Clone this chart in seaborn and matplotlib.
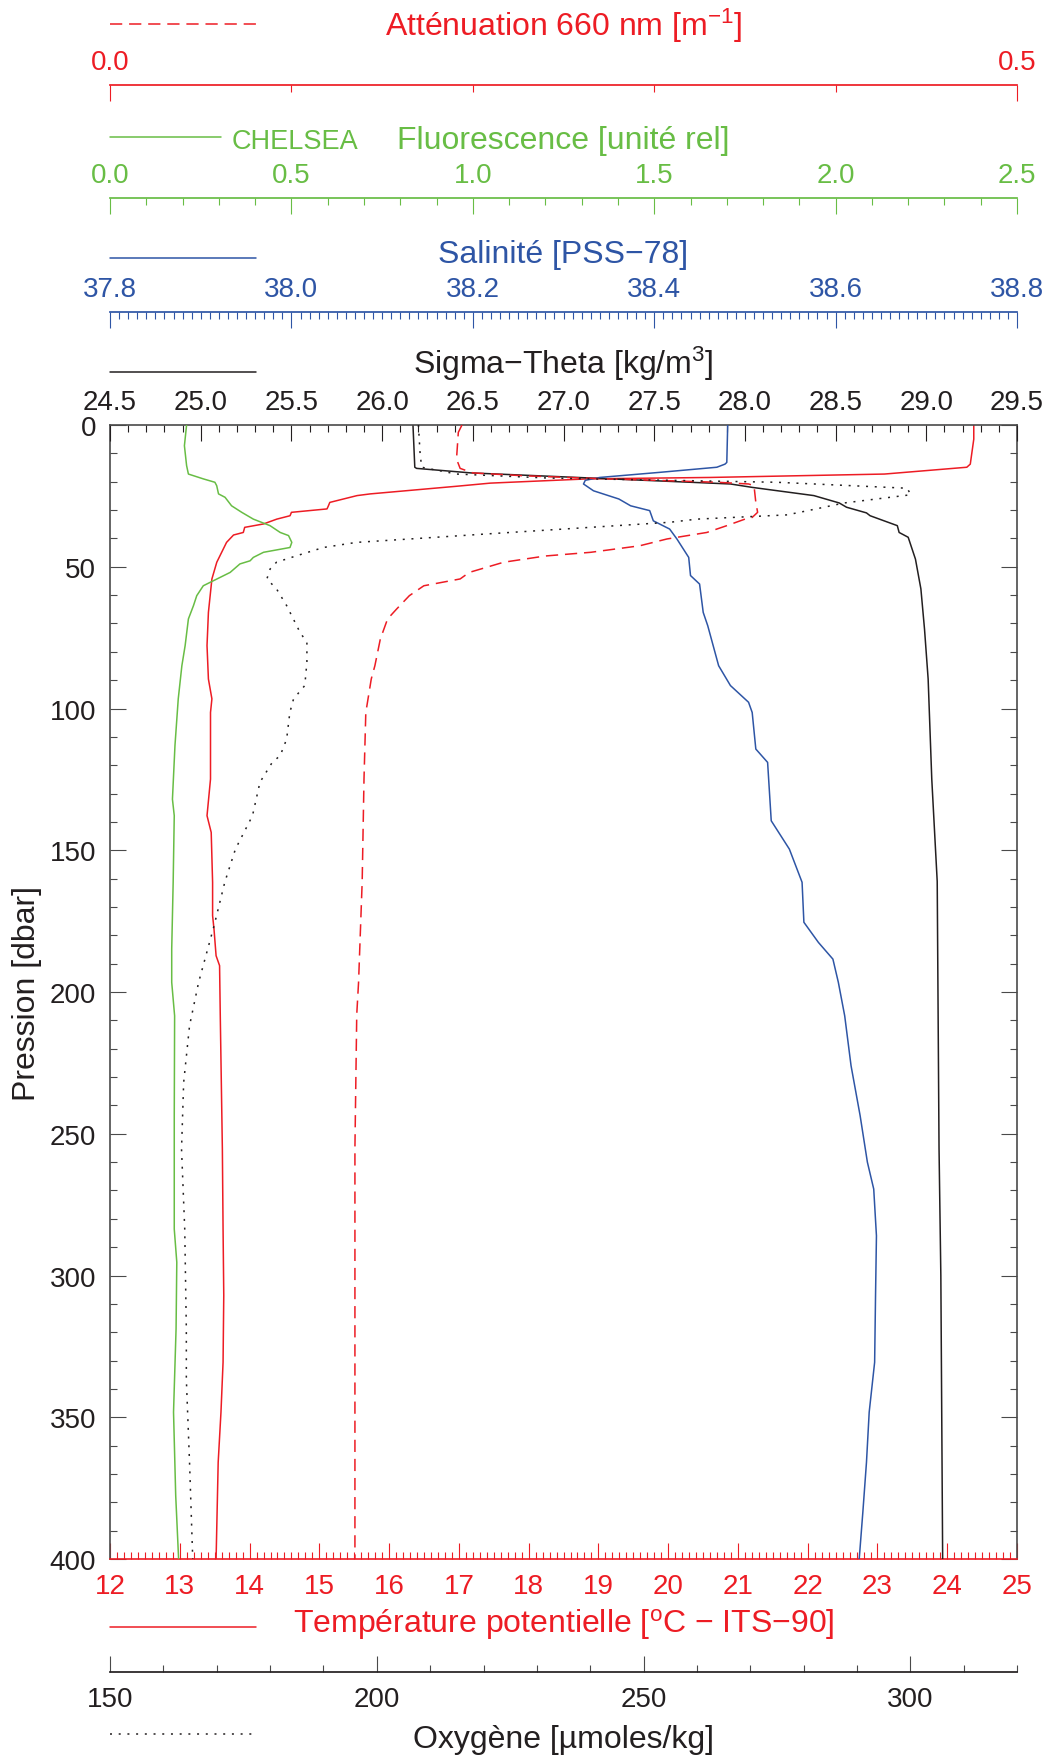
import matplotlib
matplotlib.use("Agg")
import matplotlib.pyplot as plt
import seaborn as sns
from matplotlib.ticker import MultipleLocator, FormatStrFormatter

# Profil CTD : pression (dbar) et variables mesurées
p_temp = [0, 5, 13.8, 14.9, 17.3, 18.5, 19.0, 20.5, 21.6, 24.3, 24.9, 27.3, 28.5, 29.6, 30.8, 32.0,
          33.2, 34.9, 36.1, 37.9, 38.8, 41.4, 48.4, 54.3, 66.1, 77.8, 89.6, 96.6, 101.4, 124.9, 137.8,
          143.7, 161.3, 173.1, 177.8, 187.2, 190.7, 208.4, 255.4, 283.6, 307, 330.6, 348.2, 365.9, 400]
temp = [24.38, 24.38, 24.33, 24.28, 23.10, 20.60, 18.85, 17.45, 16.97, 15.73, 15.54, 15.15, 15.13, 15.11,
        14.60, 14.58, 14.39, 14.20, 13.93, 13.91, 13.77, 13.67, 13.53, 13.46, 13.41, 13.39, 13.41, 13.46,
        13.44, 13.44, 13.39, 13.45, 13.47, 13.47, 13.49, 13.52, 13.57, 13.58, 13.61, 13.62, 13.63, 13.62,
        13.59, 13.55, 13.52]

p_sig = [0, 14.9, 15.3, 16.9, 18.7, 20.8, 22.0, 24.9, 27.5, 29.0, 31.0, 32.0, 35.5, 37.9, 39.6, 47.3,
         57.8, 72, 89.6, 124.9, 161, 255, 300, 400]
sigma = [26.17, 26.18, 26.19, 26.49, 27.15, 27.92, 28.04, 28.38, 28.52, 28.56, 28.67, 28.69, 28.84,
         28.85, 28.90, 28.94, 28.97, 28.99, 29.01, 29.03, 29.06, 29.07, 29.08, 29.09]

p_sal = [0, 13.2, 13.8, 14.9, 16.7, 18.5, 19.5, 20.8, 23.2, 26.1, 28.5, 30.2, 33.8, 36.7, 40.2, 46.7,
         53.1, 56.1, 66.1, 70.8, 84.9, 91.9, 97.8, 101.4, 114.3, 119, 139.6, 149.6, 161.3, 175.4, 182.5,
         188.4, 196.6, 208.4, 226, 243.6, 260, 269.5, 286, 307, 330.6, 348.2, 365.9, 383.5, 400]
sal = [38.481, 38.480, 38.478, 38.469, 38.406, 38.340, 38.324, 38.322, 38.333, 38.361, 38.374, 38.395,
       38.399, 38.417, 38.425, 38.438, 38.440, 38.450, 38.454, 38.459, 38.471, 38.484, 38.504, 38.508,
       38.512, 38.525, 38.529, 38.549, 38.563, 38.565, 38.581, 38.597, 38.603, 38.610, 38.617, 38.627,
       38.635, 38.642, 38.645, 38.644, 38.643, 38.637, 38.634, 38.630, 38.626]

p_fluo = [0, 7.3, 14.3, 17.3, 19, 20.2, 21.4, 24.3, 25.5, 28.5, 30.8, 33.2, 35.5, 37.9, 39.0, 41.4, 43.2,
          44.9, 46.7, 47.9, 49.0, 52.0, 56.7, 60.2, 63.7, 68.4, 77.8, 84.9, 96.6, 113, 132, 137.8, 161.3,
          184.8, 196.6, 208.4, 243.6, 283.6, 295.3, 318.8, 348.2, 377.6, 400]
fluo = [0.211, 0.205, 0.211, 0.216, 0.257, 0.289, 0.294, 0.299, 0.317, 0.335, 0.363, 0.395, 0.441,
        0.469, 0.492, 0.501, 0.496, 0.423, 0.395, 0.386, 0.358, 0.331, 0.257, 0.239, 0.230, 0.216,
        0.207, 0.198, 0.188, 0.179, 0.172, 0.177, 0.174, 0.170, 0.170, 0.178, 0.177, 0.177, 0.184,
        0.182, 0.175, 0.181, 0.189]

p_att = [0, 2.6, 12, 15.3, 16.9, 17.9, 18.8, 19.5, 20.2, 20.8, 21.4, 27.3, 30.8, 32.6, 33.2, 35.5, 37.9,
         40.2, 42.6, 44.9, 46.2, 48.4, 52, 54.3, 56.7, 60.2, 64.9, 68.4, 75.5, 84.9, 89.6, 101.4, 124.9,
         161, 196.6, 208, 255, 400]
att = [0.194, 0.192, 0.191, 0.193, 0.200, 0.228, 0.265, 0.300, 0.335, 0.352, 0.355, 0.356, 0.357,
       0.354, 0.350, 0.340, 0.329, 0.307, 0.292, 0.265, 0.240, 0.217, 0.198, 0.193, 0.173, 0.165,
       0.158, 0.153, 0.149, 0.146, 0.144, 0.141, 0.140, 0.139, 0.137, 0.136, 0.135, 0.135]

p_oxy = [0, 9.6, 14.9, 17.3, 18.7, 19.0, 20.2, 22.3, 24.6, 27.5, 30.2, 31.7, 33.2, 34.3, 36.1, 38.5,
         40.2, 41.4, 43.2, 46.1, 48.4, 50.8, 54.3, 57.8, 63.7, 73.1, 76.7, 83.7, 91.9, 96.6, 101.4,
         110.8, 116.6, 119, 126, 137.8, 149.6, 161.3, 176.6, 196.6, 211.9, 231.9, 255.4, 283.6, 318.8,
         336.5, 365.9, 400]
oxy = [207.8, 208.1, 208.4, 215.0, 232.0, 240.0, 275.0, 299.4, 300.1, 287.6, 280.8, 276.9, 260.0, 255.0,
       240.0, 220.0, 206.2, 196.2, 190.0, 185.0, 181.2, 180.0, 179.4, 181.2, 183.1, 185.6, 186.9, 186.9,
       186.5, 184.4, 183.7, 183.1, 181.9, 180.4, 178.1, 176.7, 173.5, 171.5, 169.5, 166.6, 164.9, 163.8,
       163.4, 164.0, 164.3, 164.3, 164.9, 165.5]

ROUGE = "#ED1C24"
VERT = "#68BD45"
BLEU = "#2E55A5"
NOIR = "#231F20"
GRIS = "#4A4A4A"

sns.set_theme(style="white")
plt.rcParams['font.family'] = ['Liberation Sans', 'DejaVu Sans']
plt.rcParams['mathtext.fontset'] = 'custom'
plt.rcParams['mathtext.rm'] = 'Liberation Sans'
plt.rcParams['mathtext.default'] = 'regular'

fig = plt.figure(figsize=(10.5, 17.56), dpi=100)
ax = fig.add_axes([0.1048, 0.1116, 0.8638, 0.6458])

TICK = 20
TITRE = 23
LW = 1.1


def style_axe(a, couleur, major, minor, fmt):
    a.xaxis.set_major_locator(MultipleLocator(major))
    a.xaxis.set_minor_locator(MultipleLocator(minor))
    a.xaxis.set_major_formatter(FormatStrFormatter(fmt))
    a.tick_params(axis='x', which='both', direction='in', colors=couleur,
                  labelsize=TICK, pad=7, width=0.8)
    a.tick_params(axis='x', which='major', length=11.5)
    a.tick_params(axis='x', which='minor', length=5.2)
    a.set_xlabel("")
    a.set_ylabel("")


# température (axe du bas)
sns.lineplot(x=temp, y=p_temp, sort=False, estimator=None, ax=ax, color=ROUGE, lw=LW)
ax.set_xlim(12, 25)
style_axe(ax, ROUGE, 1, 0.1, '%d')
ax.tick_params(axis='x', pad=10)
for s in ['left', 'right']:
    ax.spines[s].set_color(GRIS)
    ax.spines[s].set_linewidth(1.2)
ax.spines['bottom'].set_color(ROUGE)
ax.spines['bottom'].set_linewidth(1.2)
ax.spines['top'].set_visible(False)
ax.set_ylim(400, 0)
ax.yaxis.set_major_locator(MultipleLocator(50))
ax.yaxis.set_minor_locator(MultipleLocator(10))
ax.tick_params(axis='y', which='both', direction='in', left=True, right=True,
               colors=GRIS, labelcolor=NOIR, labelsize=TICK, pad=10, width=0.8)
ax.tick_params(axis='y', which='major', length=11.5)
ax.tick_params(axis='y', which='minor', length=5.2)


def axe_haut(pos):
    a = ax.twiny()
    for s in a.spines.values():
        s.set_visible(False)
    a.spines['top'].set_visible(True)
    a.spines['top'].set_position(('axes', pos))
    a.xaxis.set_ticks_position('top')
    a.xaxis.set_label_position('top')
    a.grid(False)
    return a


# sigma-theta (cadre du haut)
ax_sig = axe_haut(1.0)
sns.lineplot(x=sigma, y=p_sig, sort=False, estimator=None, ax=ax_sig, color=NOIR, lw=LW)
ax_sig.set_xlim(24.5, 29.5)
style_axe(ax_sig, NOIR, 0.5, 0.1, '%.1f')
ax_sig.spines['top'].set_color(GRIS)
ax_sig.spines['top'].set_linewidth(1.2)

# salinité
ax_sal = axe_haut(1.0996)
sns.lineplot(x=sal, y=p_sal, sort=False, estimator=None, ax=ax_sal, color=BLEU, lw=LW)
ax_sal.set_xlim(37.8, 38.8)
style_axe(ax_sal, BLEU, 0.2, 0.01, '%.1f')
ax_sal.spines['top'].set_color(BLEU)

# fluorescence
ax_fl = axe_haut(1.2002)
sns.lineplot(x=fluo, y=p_fluo, sort=False, estimator=None, ax=ax_fl, color=VERT, lw=LW)
ax_fl.set_xlim(0, 2.5)
style_axe(ax_fl, VERT, 0.5, 0.1, '%.1f')
ax_fl.spines['top'].set_color(VERT)

# atténuation
ax_att = axe_haut(1.2998)
sns.lineplot(x=att, y=p_att, sort=False, estimator=None, ax=ax_att, color=ROUGE, lw=LW)
ax_att.lines[-1].set_linestyle((0, (8, 4.5)))
ax_att.set_xlim(0, 0.5)
style_axe(ax_att, ROUGE, 0.5, 0.1, '%.1f')
ax_att.spines['top'].set_color(ROUGE)

# oxygène (axe séparé en bas)
ax_ox = ax.twiny()
for s in ax_ox.spines.values():
    s.set_visible(False)
ax_ox.spines['bottom'].set_visible(True)
ax_ox.spines['bottom'].set_position(('axes', -0.0996))
ax_ox.spines['bottom'].set_color(NOIR)
ax_ox.xaxis.set_ticks_position('bottom')
ax_ox.xaxis.set_label_position('bottom')
sns.lineplot(x=oxy, y=p_oxy, sort=False, estimator=None, ax=ax_ox, color=NOIR, lw=LW)
ax_ox.lines[-1].set_linestyle((0, (1.3, 4.4)))
ax_ox.set_xlim(150, 320)
style_axe(ax_ox, NOIR, 50, 10, '%d')
ax_ox.tick_params(axis='x', which='both', colors=GRIS, labelcolor=NOIR, pad=10)

ax.set_ylim(400, 0)

# titres et légendes
tr = ax.transAxes
titres = [
    ("Atténuation 660 nm [m$^{-1}$]", ROUGE, 1.3440, 1.3536, (0, (8, 4.5)), 0.161),
    ("Fluorescence [unité rel]", VERT, 1.2443, 1.2540, '-', 0.122),
    ("Salinité [PSS\u221278]", BLEU, 1.1440, 1.1473, '-', 0.161),
    ("Sigma\u2212Theta [kg/m$^{3}$]", NOIR, 1.0460, 1.0467, '-', 0.161),
    ("Température potentielle [$^{o}$C \u2212 ITS\u221290]", ROUGE, -0.0640, -0.0600, '-', 0.161),
    ("Oxygène [µmoles/kg]", NOIR, -0.1655, -0.1540, (0, (1.3, 4.4)), 0.161),
]
for txt, c, yb, yl, ls, x1 in titres:
    ax.text(0.5, yb, txt, transform=tr, ha='center', va='baseline', fontsize=TITRE, color=c)
    ax.plot([0, x1], [yl, yl], transform=tr, clip_on=False, color=c, lw=LW, linestyle=ls)
ax.text(0.134, 1.2443, "CHELSEA", transform=tr, ha='left', va='baseline', fontsize=19.5, color=VERT)

ax.text(-0.0915, 0.5, "Pression [dbar]", transform=tr, rotation=90, ha='center', va='center',
        fontsize=TITRE, color=NOIR)

ax.set_xlim(12, 25)
ax.set_ylim(400, 0)

plt.savefig("out.png", dpi=100)
